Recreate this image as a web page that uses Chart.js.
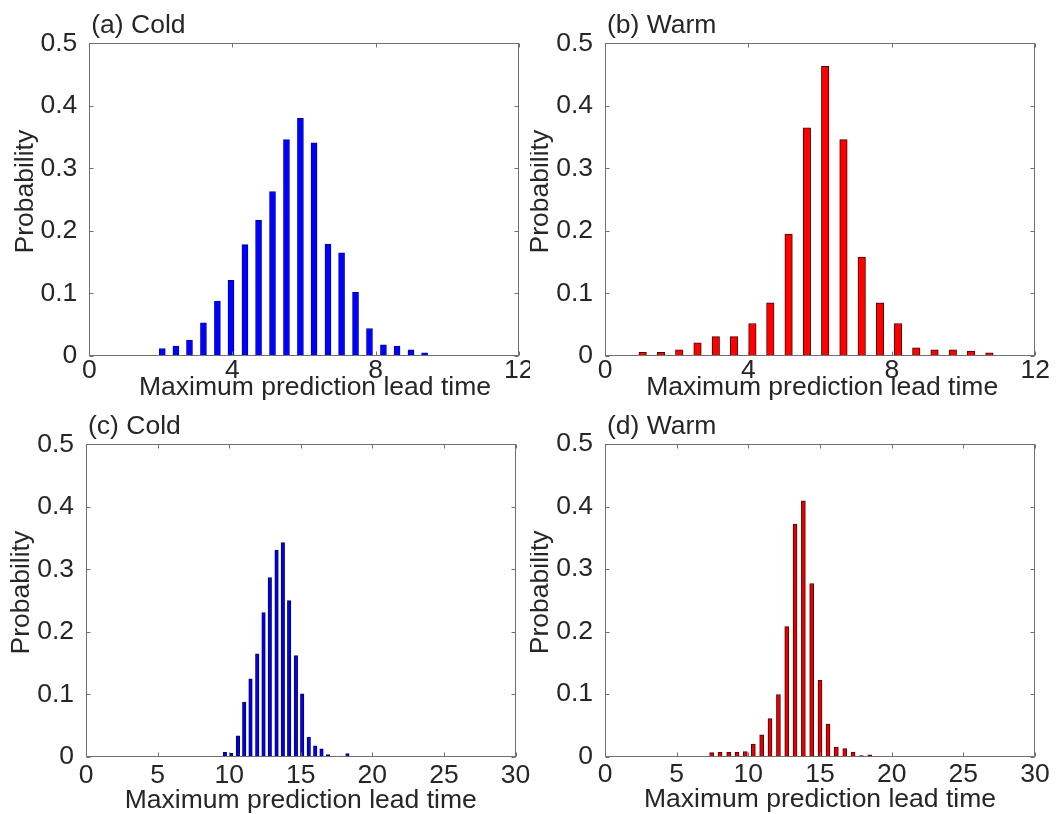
<!DOCTYPE html>
<html><head><meta charset="utf-8">
<script src="https://cdn.jsdelivr.net/npm/chart.js@4.4.1/dist/chart.umd.min.js"></script>
<style>
html,body{margin:0;padding:0;background:#fff;width:1061px;height:814px;overflow:hidden;}
canvas{position:absolute;}
</style></head><body>
<canvas id="pa" width="530" height="407" style="left:0;top:0"></canvas>
<canvas id="pb" width="531" height="407" style="left:530px;top:0"></canvas>
<canvas id="pc" width="530" height="407" style="left:0;top:407px"></canvas>
<canvas id="pd" width="531" height="407" style="left:530px;top:407px"></canvas>
<script>
// ---- data ----
const coldShortLead = [2.04, 2.42, 2.80, 3.19, 3.58, 3.96, 4.35, 4.73, 5.12, 5.51, 5.90, 6.28, 6.67, 7.05, 7.44, 7.83, 8.22, 8.60, 8.99, 9.37];
const coldShortProb = [0.012, 0.016, 0.025, 0.053, 0.088, 0.121, 0.178, 0.217, 0.263, 0.346, 0.380, 0.341, 0.179, 0.165, 0.102, 0.044, 0.018, 0.016, 0.010, 0.005];
const warmShortLead = [1.05, 1.56, 2.07, 2.58, 3.09, 3.60, 4.11, 4.61, 5.12, 5.63, 6.14, 6.65, 7.16, 7.67, 8.17, 8.68, 9.19, 9.70, 10.21, 10.72];
const warmShortProb = [0.006, 0.006, 0.010, 0.021, 0.031, 0.031, 0.052, 0.085, 0.195, 0.365, 0.463, 0.346, 0.158, 0.085, 0.052, 0.013, 0.010, 0.010, 0.008, 0.005];
const coldLongLead = [9.70, 10.14, 10.61, 11.05, 11.49, 11.96, 12.40, 12.84, 13.31, 13.75, 14.19, 14.66, 15.10, 15.56, 16.01, 16.45, 16.91, 17.36, 17.80, 18.26];
const coldLongProb = [0.0075, 0.0064, 0.034, 0.088, 0.125, 0.165, 0.231, 0.287, 0.331, 0.343, 0.250, 0.162, 0.101, 0.032, 0.018, 0.013, 0.004, 0, 0.0016, 0.0053];
const warmLongLead = [7.44, 8.03, 8.63, 9.21, 9.79, 10.35, 10.93, 11.51, 12.10, 12.68, 13.26, 13.84, 14.42, 15.00, 15.56, 16.14, 16.73, 17.31, 17.89, 18.47];
const warmLongProb = [0.0064, 0.007, 0.007, 0.007, 0.008, 0.020, 0.035, 0.061, 0.0995, 0.208, 0.372, 0.409, 0.277, 0.122, 0.052, 0.015, 0.013, 0.0075, 0.0016, 0.003];
const shortXTicks = [0, 4, 8, 12];
const longXTicks = [0, 5, 10, 15, 20, 25, 30];
const probTicks = [0, 0.1, 0.2, 0.3, 0.4, 0.5];
const panelTitles = ['(a) Cold', '(b) Warm', '(c) Cold', '(d) Warm'];
const xAxisTitle = 'Maximum prediction lead time';
const yAxisTitle = 'Probability';

// ---- styling / layout ----
const FONT = "'Liberation Sans', Arial, Helvetica, sans-serif";
const FS = 26.5;
const TXT = '#262626';
Chart.defaults.font.family = FONT;
Chart.defaults.font.size = FS;
Chart.defaults.color = TXT;

const panels = [
  {id:'pa', title:panelTitles[0], lead:coldShortLead, prob:coldShortProb, xt:shortXTicks, xmax:12,
   w:530, h:407, area:{l:89.3, t:43.3, r:518.7, b:356}, fill:'#0000ff', edge:'#0000a8', thick:6, xPad:1, xTitleDx:11, xTitleBase:39},
  {id:'pb', title:panelTitles[1], lead:warmShortLead, prob:warmShortProb, xt:shortXTicks, xmax:12,
   w:531, h:407, area:{l:75, t:43.3, r:505.3, b:356}, fill:'#ff0000', edge:'#4a0000', thick:7.5, xPad:1, xTitleDx:2, xTitleBase:39},
  {id:'pc', title:panelTitles[2], lead:coldLongLead, prob:coldLongProb, xt:longXTicks, xmax:30,
   w:530, h:407, area:{l:86, t:37.3, r:515.5, b:350}, fill:'#0000e8', edge:'#000070', thick:3.5, xPad:5, xTitleDx:0, xTitleBase:50.5},
  {id:'pd', title:panelTitles[3], lead:warmLongLead, prob:warmLongProb, xt:longXTicks, xmax:30,
   w:531, h:407, area:{l:75, t:37, r:505, b:349.7}, fill:'#e80000', edge:'#500000', thick:4, xPad:5, xTitleDx:0, xTitleBase:50.5}
];

const framePlugin = {
  id: 'frame',
  afterDatasetsDraw(chart) {
    const {ctx, chartArea: a, scales: {x, y}} = chart;
    ctx.save();
    ctx.strokeStyle = '#707070';
    ctx.lineWidth = 1;
    const L = Math.round(a.left) + 0.5, R = Math.round(a.right) - 0.5;
    const T = Math.round(a.top) + 0.5, B = Math.round(a.bottom) - 0.5;
    ctx.strokeRect(L, T, R - L, B - T);
    const tl = 4;
    ctx.beginPath();
    x.ticks.forEach(t => {
      const px = Math.round(x.getPixelForValue(t.value)) + 0.5;
      ctx.moveTo(px, B); ctx.lineTo(px, B - tl);
      ctx.moveTo(px, T); ctx.lineTo(px, T + tl);
    });
    y.ticks.forEach(t => {
      const py = Math.round(y.getPixelForValue(t.value)) + 0.5;
      ctx.moveTo(L, py); ctx.lineTo(L + tl, py);
      ctx.moveTo(R, py); ctx.lineTo(R - tl, py);
    });
    ctx.stroke();
    ctx.restore();
  },
  afterDraw(chart, args, opts) {
    const {ctx, chartArea: a} = chart;
    const p = opts.panel;
    ctx.save();
    ctx.fillStyle = TXT;
    ctx.font = FS + 'px ' + FONT;
    ctx.textBaseline = 'alphabetic';
    ctx.textAlign = 'left';
    ctx.fillText(p.title, a.left + 2, a.top - 10);
    ctx.textAlign = 'center';
    ctx.fillText(xAxisTitle, (a.left + a.right) / 2 + p.xTitleDx, a.bottom + p.xTitleBase);
    ctx.translate(a.left - 64, (a.top + a.bottom) / 2 - 8);
    ctx.rotate(-Math.PI / 2);
    ctx.textBaseline = 'middle';
    ctx.fillText(yAxisTitle, 0, 0);
    ctx.restore();
  }
};

panels.forEach(p => {
  new Chart(document.getElementById(p.id), {
    type: 'bar',
    data: {
      datasets: [{
        data: p.lead.map((v, i) => ({x: v, y: p.prob[i]})),
        backgroundColor: p.fill,
        borderColor: p.edge,
        borderWidth: 1,
        barThickness: p.thick,
        grouped: false
      }]
    },
    options: {
      responsive: false,
      animation: false,
      devicePixelRatio: 1,
      layout: {padding: {left: 0, top: p.area.t, right: p.w - p.area.r, bottom: 0}},
      plugins: {legend: {display: false}, tooltip: {enabled: false}, frame: {panel: p}},
      scales: {
        x: {
          type: 'linear', min: 0, max: p.xmax, offset: false,
          grid: {display: false, drawTicks: false, offset: false},
          border: {display: false},
          afterBuildTicks: s => { s.ticks = p.xt.map(v => ({value: v})); },
          afterFit: s => { s.height = p.h - p.area.b; s.paddingLeft = 0; s.paddingRight = 0; },
          ticks: {autoSkip: false, maxRotation: 0, padding: p.xPad, font: {size: FS, lineHeight: 1}, color: TXT,
                  callback: v => String(v)}
        },
        y: {
          type: 'linear', min: 0, max: 0.5,
          grid: {display: false, drawTicks: false},
          border: {display: false},
          afterBuildTicks: s => { s.ticks = probTicks.map(v => ({value: v})); },
          afterFit: s => { s.width = p.area.l; s.paddingTop = 0; s.paddingBottom = 0; },
          ticks: {padding: 12, font: {size: FS, lineHeight: 1}, color: TXT, callback: v => String(v)}
        }
      }
    },
    plugins: [framePlugin]
  });
});
</script>
</body></html>
